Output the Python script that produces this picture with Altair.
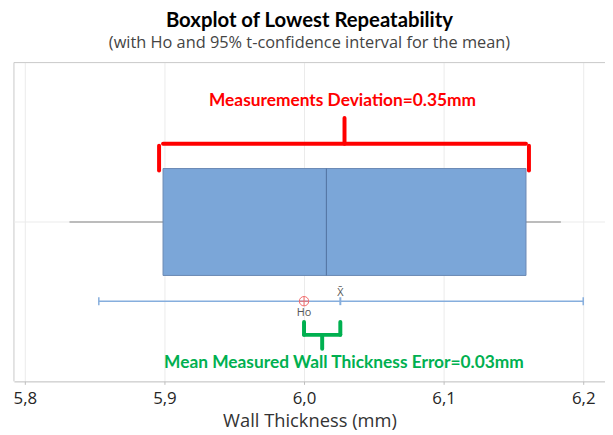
import altair as alt
import pandas as pd

# ---- data ----
x_ticks = [5.8, 5.9, 6.0, 6.1, 6.2]
box_stat_names = ["whisker_low", "q1", "median", "q3", "whisker_high"]
box_stat_values = [5.832, 5.899, 6.016, 6.159, 6.184]
ci_names = ["ci_low", "mean", "ci_high"]
ci_values = [5.853, 6.026, 6.200]
ho_value = [6.0]
annotation_texts = ["Measurements Deviation=0.35mm",
                    "Mean Measured Wall Thickness Error=0.03mm"]
title_text = "Boxplot of Lowest Repeatability"
subtitle_text = "(with Ho and 95% t-confidence interval for the mean)"
x_title = "Wall Thickness (mm)"

row = dict(zip(box_stat_names, box_stat_values))
row.update(dict(zip(ci_names, ci_values)))
row["ho"] = ho_value[0]
row["red_text"] = annotation_texts[0]
row["green_text"] = annotation_texts[1]
df = pd.DataFrame([row])

W, H = 597, 322
FONT = "Open Sans"
BOLD_FONT = "Lato"

xscale = alt.Scale(domain=[5.7922, 6.2156], nice=False, zero=False)
xaxis = alt.Axis(values=x_ticks, labelExpr="replace(format(datum.value, '.1f'), '.', ',')",
                 title=x_title, grid=True, gridColor="#EBEBEB", domainColor="#BDBDBD",
                 tickColor="#BDBDBD", tickSize=3, labelFontSize=17, labelColor="#262626",
                 labelFont=FONT, titleFont=FONT, titleFontSize=18.5, titleFontWeight="normal",
                 titleColor="#333333", labelPadding=6, titlePadding=6)


def X(f):
    return alt.X(f"{f}:Q", scale=xscale, axis=xaxis)


base = alt.Chart(df).transform_calculate(
    box_mid="(datum.q1 + datum.q3) / 2",
    err_mid="(datum.ho + datum.mean) / 2",
)

frame_top = base.mark_rule(color="#C8C8C8").encode(x=alt.value(0), x2=alt.value(W), y=alt.value(0))
frame_left = base.mark_rule(color="#C8C8C8").encode(x=alt.value(0), y=alt.value(0), y2=alt.value(H))
hgrid = base.mark_rule(color="#EBEBEB").encode(x=alt.value(0), x2=alt.value(W), y=alt.value(161))

whisker = base.mark_rule(color="#A8A8A8", strokeWidth=1.5).encode(
    x=X("whisker_low"), x2="whisker_high:Q", y=alt.value(161))
box = base.mark_rect(fill="#7BA6D8", stroke="#6A89B3", strokeWidth=1).encode(
    x=X("q1"), x2="q3:Q", y=alt.value(107), y2=alt.value(215))
median = base.mark_rule(color="#50709E", strokeWidth=1).encode(
    x=X("median"), y=alt.value(107), y2=alt.value(215))

ci_line = base.mark_rule(color="#86AEDD", strokeWidth=1.5).encode(
    x=X("ci_low"), x2="ci_high:Q", y=alt.value(241))
ci_cap_lo = base.mark_rule(color="#86AEDD", strokeWidth=1.5).encode(
    x=X("ci_low"), y=alt.value(237), y2=alt.value(245))
ci_cap_hi = base.mark_rule(color="#86AEDD", strokeWidth=1.5).encode(
    x=X("ci_high"), y=alt.value(237), y2=alt.value(245))
mean_tick = base.mark_rule(color="#86AEDD", strokeWidth=2).encode(
    x=X("mean"), y=alt.value(237), y2=alt.value(245))
ho_path = "M-1,0A1,1,0,1,1,1,0A1,1,0,1,1,-1,0ZM-1,0L1,0M0,-1L0,1"
ho_mark = base.mark_point(shape=ho_path, size=90, stroke="#F26B6B", filled=False,
                          strokeWidth=1, opacity=1).encode(x=X("ho"), y=alt.value(241))
xbar_label = base.mark_text(text="X\u0304", fontSize=11, color="#555555", font=FONT).encode(
    x=X("mean"), y=alt.value(233))
ho_label = base.mark_text(text="Ho", fontSize=11, color="#555555", font=FONT).encode(
    x=X("ho"), y=alt.value(253))

RED = "#FF0000"
GREEN = "#00B050"
red_h = base.mark_rule(color=RED, strokeWidth=4, strokeCap="round").encode(
    x=X("q1"), x2="q3:Q", y=alt.value(82))
red_l = base.mark_rule(color=RED, strokeWidth=4, strokeCap="round", xOffset=-4).encode(
    x=X("q1"), y=alt.value(84), y2=alt.value(109))
red_r = base.mark_rule(color=RED, strokeWidth=4, strokeCap="round", xOffset=3).encode(
    x=X("q3"), y=alt.value(84), y2=alt.value(109))
red_c = base.mark_rule(color=RED, strokeWidth=4, strokeCap="round").encode(
    x=X("box_mid"), y=alt.value(56), y2=alt.value(82))
red_text = base.mark_text(fontSize=17.5, fontWeight="bold", color=RED, font=BOLD_FONT, dx=-2).encode(
    x=X("box_mid"), y=alt.value(39), text="red_text:N")

green_h = base.mark_rule(color=GREEN, strokeWidth=4, strokeCap="round").encode(
    x=X("ho"), x2="mean:Q", y=alt.value(275))
green_l = base.mark_rule(color=GREEN, strokeWidth=4, strokeCap="round").encode(
    x=X("ho"), y=alt.value(262), y2=alt.value(275))
green_r = base.mark_rule(color=GREEN, strokeWidth=4, strokeCap="round").encode(
    x=X("mean"), y=alt.value(262), y2=alt.value(275))
green_c = base.mark_rule(color=GREEN, strokeWidth=4, strokeCap="round").encode(
    x=X("err_mid"), y=alt.value(275), y2=alt.value(289))
green_text = base.mark_text(fontSize=17.5, fontWeight="bold", color=GREEN, font=BOLD_FONT, dx=22).encode(
    x=X("err_mid"), y=alt.value(303), text="green_text:N")

chart = alt.layer(
    frame_top, frame_left, hgrid, whisker, box, median,
    ci_line, ci_cap_lo, ci_cap_hi, mean_tick, ho_mark, xbar_label, ho_label,
    red_h, red_l, red_r, red_c, red_text,
    green_h, green_l, green_r, green_c, green_text,
).properties(
    width=W, height=H,
    title=alt.TitleParams(text=title_text, subtitle=subtitle_text, anchor="middle",
                          font=BOLD_FONT, fontSize=20.5, fontWeight="bold", color="#000000",
                          subtitleFont=FONT, subtitleFontSize=16.5, subtitleColor="#444444",
                          offset=11, subtitlePadding=3),
    padding={"left": 6, "top": 53, "right": 0, "bottom": 52},
    autosize="none",
).configure_view(stroke=None)

chart.save("out.html", embed_options={"renderer": "svg", "actions": False})
